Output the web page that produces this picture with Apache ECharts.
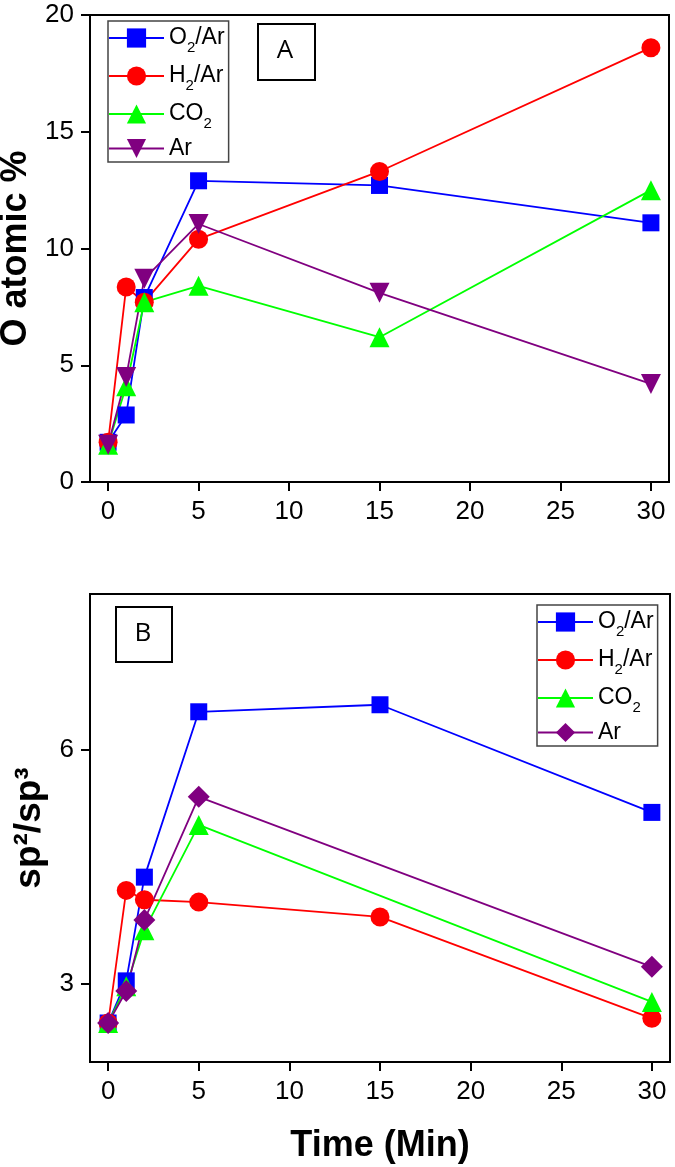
<!DOCTYPE html>
<html>
<head>
<meta charset="utf-8">
<script src="https://cdn.jsdelivr.net/npm/echarts@6/dist/echarts.min.js"></script>
<style>html,body{margin:0;padding:0;background:#fff;}#c{width:675px;height:1167px;}</style>
</head>
<body>
<div id="c"></div>
<script>
const times = [0, 1, 2, 5, 15, 30];
const xTicks = [0, 5, 10, 15, 20, 25, 30];
const yTicksA = [0, 5, 10, 15, 20];
const yTicksB = [3, 6];
const seriesNames = ['O2/Ar', 'H2/Ar', 'CO2', 'Ar'];
const oAtomic_O2Ar = [1.7, 2.87, 7.9, 12.9, 12.7, 11.1];
const oAtomic_H2Ar = [1.7, 8.35, 7.7, 10.4, 13.3, 18.6];
const oAtomic_CO2 = [1.6, 4.1, 7.7, 8.4, 6.2, 12.5];
const oAtomic_Ar = [1.6, 4.5, 8.7, 11.05, 8.1, 4.2];
const sp_O2Ar = [2.5, 3.04, 4.37, 6.49, 6.58, 5.2];
const sp_H2Ar = [2.5, 4.2, 4.08, 4.05, 3.86, 2.56];
const sp_CO2 = [2.5, 2.97, 3.69, 5.04, null, 2.77];
const sp_Ar = [2.5, 2.91, 3.82, 5.4, null, 3.22];

const colors = ['#0000ff', '#ff0000', '#00ff00', '#800080'];
const pairs = arr => times.map((t, i) => [t, arr[i]]).filter(p => p[1] !== null);

const chart = echarts.init(document.getElementById('c'), null, {renderer: 'canvas'});
const F = 'Liberation Sans, Arial, sans-serif';

const legendFormatter = name => {
  if (name === 'O2/Ar') return '{n|O}{s|2}{n|/Ar}';
  if (name === 'H2/Ar') return '{n|H}{s|2}{n|/Ar}';
  if (name === 'CO2') return '{n|CO}{s|2}';
  return '{n|Ar}';
};
const legendRich = {
  n: {fontSize: 23, fontFamily: F, color: '#000', lineHeight: 30, verticalAlign: 'middle'},
  s: {fontSize: 15, fontFamily: F, color: '#000', lineHeight: 14, padding: [17, 0, 0, 0], verticalAlign: 'top'}
};

function xAxisCfg(gi, showName) {
  return {
    type: 'value', gridIndex: gi, min: -1, max: 31,
    name: showName ? 'Time (Min)' : '', nameLocation: 'middle', nameGap: 66,
    nameTextStyle: {fontSize: 36, fontWeight: 'bold', fontFamily: F, color: '#000'},
    axisLine: {show: true, onZero: false, lineStyle: {color: '#000', width: 2}},
    axisTick: {show: true, customValues: xTicks, length: 9, lineStyle: {color: '#000', width: 2}},
    axisLabel: {customValues: xTicks, fontSize: 26, fontFamily: F, color: '#000', margin: 17},
    splitLine: {show: false}
  };
}

function seriesCfg(name, data, idx, gi, symbol, size, rotate) {
  return {
    name: name, type: 'line', xAxisIndex: gi, yAxisIndex: gi,
    data: pairs(data), symbol: symbol, symbolSize: size, symbolRotate: rotate || 0,
    lineStyle: {color: colors[idx], width: 1.8},
    itemStyle: {color: colors[idx]},
    showAllSymbol: true, animation: false, z: 3
  };
}

const option = {
  animation: false,
  backgroundColor: '#fff',
  grid: [
    {left: 90, top: 15, width: 579, height: 467, show: true, borderColor: '#000', borderWidth: 2, backgroundColor: 'transparent', outerBoundsMode: 'none', containLabel: false},
    {left: 90, top: 594, width: 580, height: 468, show: true, borderColor: '#000', borderWidth: 2, backgroundColor: 'transparent', outerBoundsMode: 'none', containLabel: false}
  ],
  xAxis: [xAxisCfg(0, false), xAxisCfg(1, true)],
  yAxis: [
    {
      type: 'value', gridIndex: 0, min: 0, max: 20, interval: 5,
      name: 'O atomic %', nameLocation: 'middle', nameGap: 54, nameRotate: 90,
      nameTextStyle: {fontSize: 36, fontWeight: 'bold', fontFamily: F, color: '#000'},
      axisLine: {show: true, onZero: false, lineStyle: {color: '#000', width: 2}},
      axisTick: {show: true, length: 9, lineStyle: {color: '#000', width: 2}},
      axisLabel: {fontSize: 26, fontFamily: F, color: '#000', margin: 16},
      splitLine: {show: false}
    },
    {
      type: 'value', gridIndex: 1, min: 2, max: 8,
      name: 'sp²/sp³', nameLocation: 'middle', nameGap: 38, nameRotate: 90,
      nameTextStyle: {fontSize: 37, fontWeight: 'bold', fontFamily: F, color: '#000'},
      axisLine: {show: true, onZero: false, lineStyle: {color: '#000', width: 2}},
      axisTick: {show: true, customValues: yTicksB, length: 9, lineStyle: {color: '#000', width: 2}},
      axisLabel: {customValues: yTicksB, fontSize: 26, fontFamily: F, color: '#000', margin: 16},
      splitLine: {show: false}
    }
  ],
  legend: [
    {
      data: seriesNames.map(n => ({name: n})),
      orient: 'vertical', left: 108, top: 21, itemWidth: 55, itemHeight: 24, itemGap: 6,
      padding: [2, 4, 2, 0], borderColor: '#444', borderWidth: 1.5,
      formatter: legendFormatter, textStyle: {rich: legendRich},
      selectedMode: false
    },
    {
      data: ['O2/Ar ', 'H2/Ar ', 'CO2 ', 'Ar '].map(n => ({name: n})),
      orient: 'vertical', left: 537, top: 605, itemWidth: 55, itemHeight: 24, itemGap: 6,
      padding: [2, 4, 2, 0], borderColor: '#444', borderWidth: 1.5,
      formatter: n => legendFormatter(n.trim()), textStyle: {rich: legendRich},
      selectedMode: false
    }
  ],
  graphic: [
    {type: 'rect', left: 257, top: 23, shape: {width: 57, height: 56}, style: {fill: 'transparent', stroke: '#000', lineWidth: 2}, z: 10},
    {type: 'text', x: 285, y: 51, style: {text: 'A', fontSize: 26, fontFamily: 'Open Sans, sans-serif', fill: '#000', align: 'center', verticalAlign: 'middle'}, z: 10},
    {type: 'rect', left: 115, top: 606, shape: {width: 56, height: 55}, style: {fill: 'transparent', stroke: '#000', lineWidth: 2}, z: 10},
    {type: 'text', x: 143, y: 634, style: {text: 'B', fontSize: 26, fontFamily: 'Open Sans, sans-serif', fill: '#000', align: 'center', verticalAlign: 'middle'}, z: 10}
  ],
  series: [
    seriesCfg('O2/Ar', oAtomic_O2Ar, 0, 0, 'rect', 17),
    seriesCfg('H2/Ar', oAtomic_H2Ar, 1, 0, 'circle', 19),
    seriesCfg('CO2', oAtomic_CO2, 2, 0, 'triangle', 20),
    seriesCfg('Ar', oAtomic_Ar, 3, 0, 'triangle', 20, 180),
    seriesCfg('O2/Ar ', sp_O2Ar, 0, 1, 'rect', 17),
    seriesCfg('H2/Ar ', sp_H2Ar, 1, 1, 'circle', 19),
    seriesCfg('CO2 ', sp_CO2, 2, 1, 'triangle', 20),
    seriesCfg('Ar ', sp_Ar, 3, 1, 'diamond', 22)
  ]
};
chart.setOption(option);
</script>
</body>
</html>
